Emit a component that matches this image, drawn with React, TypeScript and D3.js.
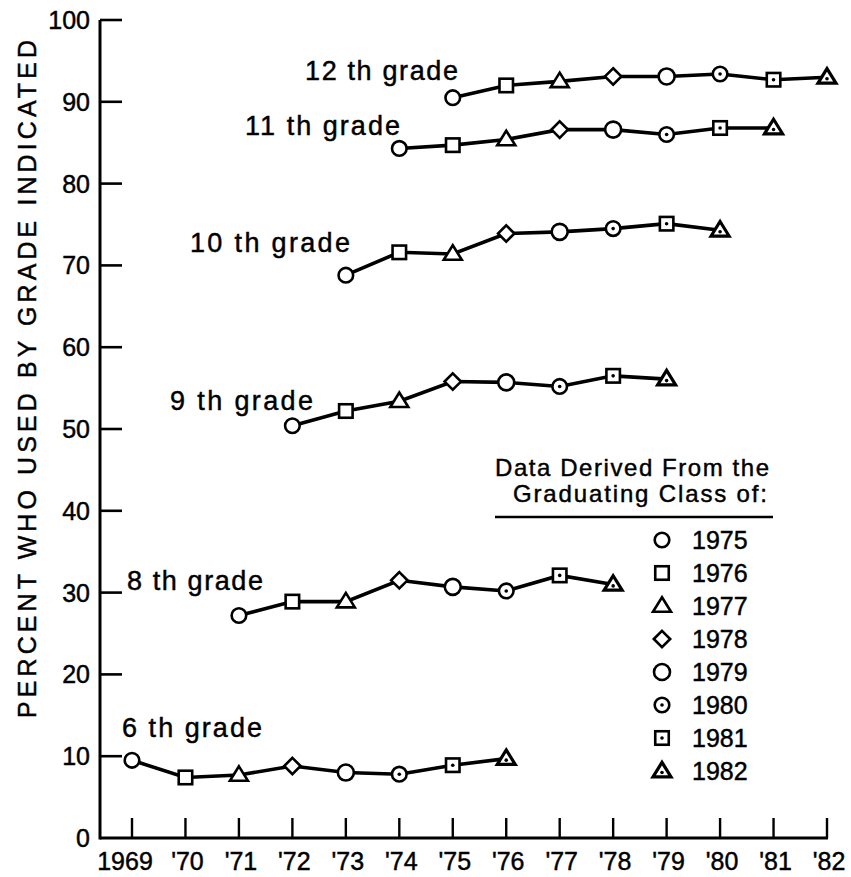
import React from "react";
import * as d3 from "d3";

// ---------- data ----------
const years = [1969, 1970, 1971, 1972, 1973, 1974, 1975, 1976, 1977, 1978, 1979, 1980, 1981, 1982];
const yearLabels = ["1969", "'70", "'71", "'72", "'73", "'74", "'75", "'76", "'77", "'78", "'79", "'80", "'81", "'82"];
const yTicks = [0, 10, 20, 30, 40, 50, 60, 70, 80, 90, 100];
const classes = ["1975", "1976", "1977", "1978", "1979", "1980", "1981", "1982"];
const markerKinds = ["circle", "square", "triangle", "diamond", "circleBig", "dotCircle", "dotSquare", "dotTriangle"];

const gradeLabels = ["12 th grade", "11 th grade", "10 th grade", "9 th grade", "8 th grade", "6 th grade"];
const gradeStartYears = [1975, 1974, 1973, 1972, 1971, 1969];
const grade12 = [90.5, 92.0, 92.5, 93.1, 93.1, 93.4, 92.7, 93.0];
const grade11 = [84.3, 84.7, 85.4, 86.6, 86.6, 86.0, 86.8, 86.8];
const grade10 = [68.8, 71.6, 71.4, 73.9, 74.1, 74.5, 75.1, 74.3];
const grade9 = [50.4, 52.2, 53.4, 55.8, 55.7, 55.2, 56.5, 56.1];
const grade8 = [27.2, 28.9, 28.9, 31.5, 30.7, 30.2, 32.1, 31.0];
const grade6 = [9.5, 7.4, 7.7, 8.8, 8.0, 7.8, 8.9, 9.7];
const gradeValues = [grade12, grade11, grade10, grade9, grade8, grade6];

const legendTitle1 = "Data Derived From the";
const legendTitle2 = "Graduating Class of:";
const yTitle = "PERCENT WHO USED BY GRADE INDICATED";

// ---------- layout ----------
const W = 851;
const H = 877;
const FONT = "'Liberation Sans', Arial, sans-serif";
const TXT = { fontFamily: FONT, fill: "#000", stroke: "#000", strokeWidth: 0.45 };
const gradeLabelPos = [
  { x: 305, y: 80, w: 153 },
  { x: 245, y: 135, w: 155 },
  { x: 190, y: 252, w: 160 },
  { x: 170, y: 410, w: 143 },
  { x: 127, y: 590, w: 136 },
  { x: 122, y: 737, w: 140 },
];

function Marker({ kind, cx, cy }: { kind: string; cx: number; cy: number }) {
  const sw = 2.6;
  const common = { fill: "#fff", stroke: "#000", strokeWidth: sw };
  const dot = <circle cx={cx} cy={cy} r={1.8} fill="#000" />;
  if (kind === "circle" || kind === "circleBig" || kind === "dotCircle") {
    const r = kind === "circleBig" ? 8 : 7.3;
    return (
      <g>
        <circle cx={cx} cy={cy} r={r} {...common} />
        {kind === "dotCircle" && dot}
      </g>
    );
  }
  if (kind === "square" || kind === "dotSquare") {
    const s = 13.5;
    return (
      <g>
        <rect x={cx - s / 2} y={cy - s / 2} width={s} height={s} {...common} />
        {kind === "dotSquare" && dot}
      </g>
    );
  }
  if (kind === "triangle" || kind === "dotTriangle") {
    const h = 14.5;
    const half = 9;
    const p = `M${cx},${cy - h * 0.6}L${cx + half},${cy + h * 0.4}L${cx - half},${cy + h * 0.4}Z`;
    return (
      <g>
        <path d={p} {...common} strokeWidth={kind === "dotTriangle" ? 3.2 : sw} strokeLinejoin="miter" />
        {kind === "dotTriangle" && <circle cx={cx} cy={cy + 1.5} r={1.8} fill="#000" />}
      </g>
    );
  }
  // diamond
  const d = 8.2;
  const p = `M${cx},${cy - d}L${cx + d},${cy}L${cx},${cy + d}L${cx - d},${cy}Z`;
  return <path d={p} {...common} />;
}

export default function App() {
  const x = d3.scaleLinear().domain([1969, 1982]).range([132, 827]);
  const y = d3.scaleLinear().domain([0, 100]).range([838, 20]);
  const line = d3
    .line<[number, number]>()
    .x((d) => x(d[0]))
    .y((d) => y(d[1]));

  const legendX = 662;
  const legendY0 = 540;
  const legendStep = 33;

  return (
    <svg width={W} height={H} style={{ display: "block", position: "absolute", left: 0, top: 0, background: "#fff" }}>
      <rect x={0} y={0} width={W} height={H} fill="#fff" />
      {/* y axis */}
      <line x1={100} x2={100} y1={y(100)} y2={y(0) + 1.5} stroke="#000" strokeWidth={3} />
      {yTicks.map((t) => (
        <g key={t}>
          {t > 0 && <line x1={100} x2={122} y1={y(t)} y2={y(t)} stroke="#000" strokeWidth={2.6} />}
          <text x={90} y={y(t)} dy="0.36em" textAnchor="end" fontSize={25} {...TXT}>
            {t}
          </text>
        </g>
      ))}
      {/* x axis */}
      <line x1={100} x2={x(1982) + 1} y1={y(0)} y2={y(0)} stroke="#000" strokeWidth={3} />
      {years.map((yr, i) => (
        <g key={yr}>
          <line x1={x(yr)} x2={x(yr)} y1={y(0) - 20} y2={y(0)} stroke="#000" strokeWidth={2.4} />
          <text x={x(yr) + (i === 0 ? -7 : 2)} y={870} textAnchor="middle" fontSize={25} {...TXT}>
            {yearLabels[i]}
          </text>
        </g>
      ))}
      {/* y title */}
      <text
        x={36}
        y={379}
        transform="rotate(-90, 36, 379)"
        textAnchor="middle"
        fontSize={25}
        textLength={678}
        lengthAdjust="spacing"
        {...TXT}
      >
        {yTitle}
      </text>
      {/* series */}
      {gradeValues.map((vals, gi) => {
        const pts: [number, number][] = vals.map((v, i) => [gradeStartYears[gi] + i, v]);
        return (
          <g key={gi}>
            <path d={line(pts) || ""} fill="none" stroke="#000" strokeWidth={3.6} />
            {pts.map((p, i) => (
              <Marker key={i} kind={markerKinds[i]} cx={x(p[0])} cy={y(p[1])} />
            ))}
            <text
              x={gradeLabelPos[gi].x}
              y={gradeLabelPos[gi].y}
              fontSize={27}
              textLength={gradeLabelPos[gi].w}
              lengthAdjust="spacing"
              {...TXT}
            >
              {gradeLabels[gi]}
            </text>
          </g>
        );
      })}
      {/* legend */}
      <text x={632} y={476} textAnchor="middle" fontSize={24} textLength={274} lengthAdjust="spacing" {...TXT}>
        {legendTitle1}
      </text>
      <text x={640} y={502} textAnchor="middle" fontSize={24} textLength={254} lengthAdjust="spacing" {...TXT}>
        {legendTitle2}
      </text>
      <line x1={495} x2={773} y1={517} y2={517} stroke="#000" strokeWidth={2.4} />
      {classes.map((c, i) => (
        <g key={c}>
          <Marker kind={markerKinds[i]} cx={legendX} cy={legendY0 + i * legendStep} />
          <text x={692} y={legendY0 + i * legendStep} dy="0.36em" fontSize={25} {...TXT}>
            {c}
          </text>
        </g>
      ))}
    </svg>
  );
}
